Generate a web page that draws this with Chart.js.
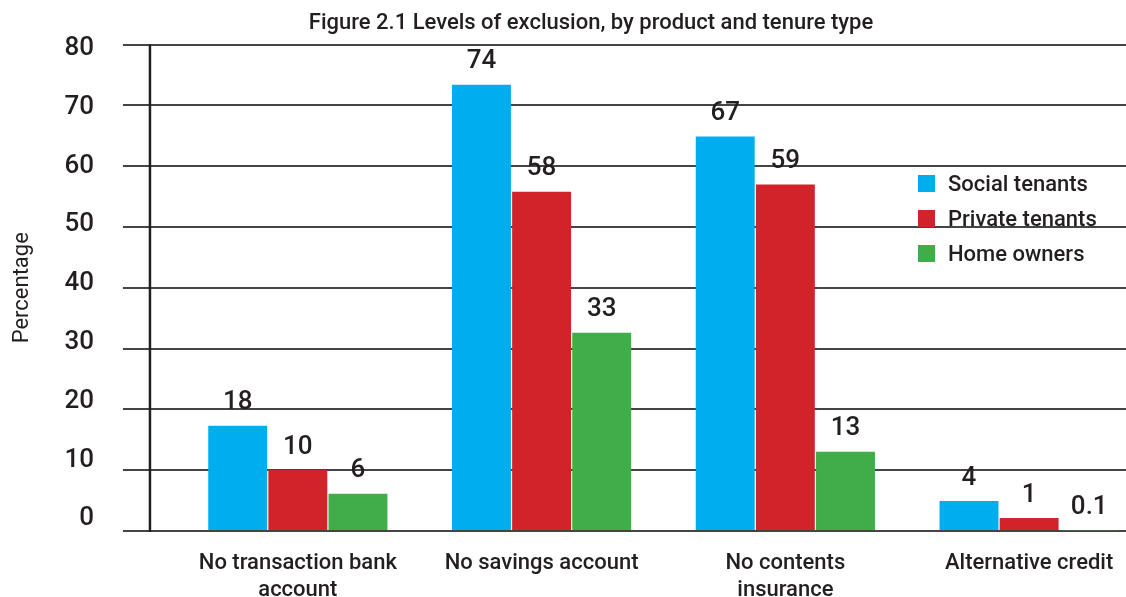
<!DOCTYPE html>
<html>
<head>
<meta charset="utf-8">
<script src="https://cdn.jsdelivr.net/npm/chart.js@4.4.1/dist/chart.umd.min.js"></script>
<style>
  html, body { margin: 0; padding: 0; background: #fff; overflow: hidden; }
  #wrap { position: relative; width: 1126px; height: 597px; overflow: hidden; }
  #box { position: absolute; left: 0; top: 0; width: 1182px; height: 623px; }
  #legend { position: absolute; left: 918px; top: 166px; font: 500 22px Roboto, sans-serif; color: #231f20; }
  .item { display: flex; align-items: center; height: 35px; }
  .sw { width: 17px; height: 17px; margin-right: 13px; }
</style>
</head>
<body>
<div id="wrap">
  <div id="box"><canvas id="chart"></canvas></div>
  <div id="legend"></div>
</div>
<script>
// kategoriat (rivitetty kuten kuvassa)
const categories = [["No transaction bank", "account"], ["No savings account"], ["No contents", "insurance"], ["Alternative credit"]];
const seriesNames = ["Social tenants", "Private tenants", "Home owners"];
const colors = ["#00aeef", "#d2232a", "#40ad49"];

// pylväiden korkeudet luettuna kuvasta
const social = [17.3, 73.4, 64.9, 4.9];
const privateTenants = [10.0, 55.8, 57.0, 2.1];
const homeOwners = [6.1, 32.6, 13.0, 0.1];

// pylväiden päällä olevat tekstit
const socialLabels = ["18", "74", "67", "4"];
const privateLabels = ["10", "58", "59", "1"];
const ownerLabels = ["6", "33", "13", "0.1"];

const yTicks = [0, 10, 20, 30, 40, 50, 60, 70, 80];

const textColor = "#231f20";
Chart.defaults.font.family = "Roboto, sans-serif";
Chart.defaults.color = textColor;

const series = [social, privateTenants, homeOwners];
const valueLabels = [socialLabels, privateLabels, ownerLabels];

// arvot pylväiden yläpuolelle
const valuePlugin = {
  id: "values",
  afterDatasetsDraw(chart) {
    const ctx = chart.ctx;
    ctx.save();
    ctx.font = "500 26px Roboto, sans-serif";
    ctx.fillStyle = textColor;
    ctx.textAlign = "center";
    ctx.textBaseline = "middle";
    chart.data.datasets.forEach((ds, i) => {
      chart.getDatasetMeta(i).data.forEach((bar, j) => {
        ctx.fillText(valueLabels[i][j], bar.x, bar.y - 23);
      });
    });
    ctx.restore();
  }
};

// pystyakselin viiva hieman piirtoalueen vasemmalla puolella
const axisLinePlugin = {
  id: "axisLine",
  afterDraw(chart) {
    const y = chart.scales.y;
    const x = chart.chartArea.left - 26;
    const ctx = chart.ctx;
    ctx.save();
    ctx.strokeStyle = textColor;
    ctx.lineWidth = 2.5;
    ctx.beginPath();
    ctx.moveTo(x, y.getPixelForValue(80));
    ctx.lineTo(x, y.getPixelForValue(0) + 1);
    ctx.stroke();
    ctx.restore();
  }
};

new Chart(document.getElementById("chart"), {
  type: "bar",
  data: {
    labels: categories,
    datasets: seriesNames.map((name, i) => ({
      label: name,
      data: series[i],
      backgroundColor: colors[i],
      categoryPercentage: 0.74,
      barPercentage: 0.98
    }))
  },
  options: {
    responsive: true,
    maintainAspectRatio: false,
    animation: false,
    plugins: {
      legend: { display: false },
      tooltip: { enabled: false },
      title: {
        display: true,
        text: "Figure 2.1 Levels of exclusion, by product and tenure type",
        font: { size: 22, weight: "500" },
        color: textColor,
        padding: { top: 10, bottom: 8 }
      }
    },
    scales: {
      x: {
        offset: true,
        grid: { display: false, drawTicks: false },
        border: { display: false },
        ticks: {
          font: { size: 22, weight: "500", lineHeight: 1.23 },
          color: textColor,
          padding: 19,
          maxRotation: 0,
          autoSkip: false
        }
      },
      y: {
        min: 0,
        max: 80,
        weight: 0,
        ticks: { stepSize: 10, display: false },
        grid: { color: "#444", lineWidth: 2, drawTicks: true, tickLength: 53, tickColor: "#444" },
        border: { display: false }
      },
      yLab: {
        type: "linear",
        position: "left",
        weight: 1,
        min: -2.04,
        max: 80.68,
        afterBuildTicks: (s) => { s.ticks = yTicks.map((v) => ({ value: v })); },
        grid: { display: false, drawTicks: false },
        border: { display: false },
        ticks: { padding: 29, font: { size: 26, weight: "500" }, color: textColor },
        title: {
          display: true,
          text: "Percentage",
          font: { size: 22 },
          color: textColor,
          padding: { top: 9, bottom: 0 }
        }
      },
      // tyhjä oikea akseli, jotta otsikko asettuu kuten kuvassa
      yRight: {
        type: "linear",
        position: "right",
        min: 0,
        max: 80,
        grid: { display: false, drawTicks: false },
        border: { display: false },
        ticks: { display: false },
        afterFit: (s) => { s.width = 31; }
      }
    }
  },
  plugins: [valuePlugin, axisLinePlugin]
});

// selite HTML:nä
const legend = document.getElementById("legend");
seriesNames.forEach((name, i) => {
  const row = document.createElement("div");
  row.className = "item";
  row.innerHTML = `<span class="sw" style="background:${colors[i]}"></span><span>${name}</span>`;
  legend.appendChild(row);
});
</script>
</body>
</html>
